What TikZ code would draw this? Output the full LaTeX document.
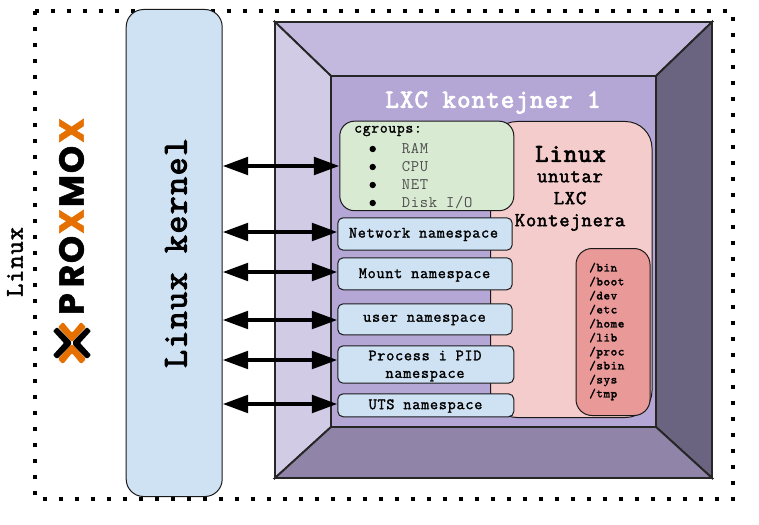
\documentclass[tikz,border=0pt]{standalone}
\usepackage{fontspec}
\setmonofont{Latin Modern Mono}[Scale=1.08,LetterSpace=4.4,BoldFont={Latin Modern Mono},BoldFeatures={FakeBold=1.6}]
\newfontfamily\bigmono{Latin Modern Mono}[Scale=1.08,LetterSpace=4.4,FakeBold=3.2]
\newfontfamily\midmono{Latin Modern Mono}[Scale=1.08,LetterSpace=4.4,FakeBold=2.4]
\newfontfamily\logofont{Poppins}[BoldFeatures={FakeBold=1.5}]
\usetikzlibrary{arrows.meta}
\definecolor{kblue}{HTML}{CFE2F3}
\definecolor{kgreen}{HTML}{D9EAD3}
\definecolor{kpink}{HTML}{F4CCCC}
\definecolor{kred}{HTML}{EA9999}
\definecolor{kin}{HTML}{B4A7D6}
\definecolor{ktop}{HTML}{C3B8DE}
\definecolor{kleft}{HTML}{D2CBE6}
\definecolor{kright}{HTML}{6A6480}
\definecolor{kbot}{HTML}{9085A9}
\definecolor{korange}{HTML}{E57000}
\tikzset{
  x=0.75pt,y=-0.75pt,
  edge/.style={draw=black!90,line width=0.75pt},
  bev/.style={draw=black!85,line width=1.4pt,line join=miter},
  nsbox/.style={draw=black!90,line width=0.75pt,fill=kblue,rounded corners=4pt,inner sep=0pt,anchor=north west},
  nstext/.style={font=\ttfamily\bfseries\fontsize{11}{13.2}\selectfont,align=center,inner sep=0pt},
  biarrow/.style={{Triangle[length=19pt,width=13pt]}-{Triangle[length=19pt,width=13pt]},line width=3pt,black},
  logo/.style={font=\logofont\bfseries\fontsize{26}{26}\selectfont,rotate=90,inner sep=0pt}
}
\begin{document}
\begin{tikzpicture}
\useasboundingbox (0,0) rectangle (759,524);
\fill[white] (0,0) rectangle (759,524);
\draw[line width=3pt,dash pattern=on 3pt off 9pt] (35,11) -- (733,11) -- (733,499) -- (35,499) -- cycle;
\node[rotate=90,font=\midmono\fontsize{17.6}{20}\selectfont,inner sep=0pt] (lnx) at (15,262) {Linux};
% logo
\node[logo,korange] (x1) at (71.5,130.5) {X};
\node[logo] (o1) at (71.5,159.5) {O};
\node[logo] (m1) at (71.5,191) {M};
\node[logo,korange] (x2) at (71.5,221.5) {X};
\node[logo] (o2) at (71.5,249.5) {O};
\node[logo] (r1) at (71.5,276) {R};
\node[logo] (p1) at (71.5,304) {P};
\fill[black,rounded corners=0.8pt] (53,331) -- (57,327) -- (71,341) -- (71,345) -- (57,359) -- (53,355) -- (64,343) -- cycle;
\fill[black,rounded corners=0.8pt] (91,331) -- (87,327) -- (73,341) -- (73,345) -- (87,359) -- (91,355) -- (80,343) -- cycle;
\fill[korange,rounded corners=1pt] (58,327) -- (63,322) -- (72,333) -- (81,322) -- (86,327) -- (72,342) -- cycle;
\fill[korange,rounded corners=1pt] (58,359) -- (63,364) -- (72,353) -- (81,364) -- (86,359) -- (72,344) -- cycle;
% kernel
\node[draw=black!90,line width=0.75pt,fill=kblue,rounded corners=13pt,minimum width=96*0.75pt,minimum height=487*0.75pt,inner sep=0pt,anchor=north west] (kernel) at (125.7,9) {};
\node[rotate=90,font=\bigmono\fontsize{24.1}{26}\selectfont,inner sep=0pt] (kt) at (176,253) {Linux kernel};
% frame
\path[bev,fill=ktop] (275,22) -- (712,22) -- (656,76) -- (331,76) -- cycle;
\path[bev,fill=kleft] (275,22) -- (331,76) -- (331,427) -- (275,478) -- cycle;
\path[bev,fill=kright] (712,22) -- (712,478) -- (656,427) -- (656,76) -- cycle;
\path[bev,fill=kbot] (275,478) -- (331,427) -- (656,427) -- (712,478) -- cycle;
\path[bev,fill=kin] (331,76) rectangle (656,427);
\node[font=\bigmono\fontsize{18.1}{20}\selectfont,text=white,inner sep=0pt] (title) at (493,102.5) {LXC kontejner 1};
% linux
\node[edge,fill=kpink,rounded corners=20pt,minimum width=161.5*0.75pt,minimum height=296*0.75pt,inner sep=0pt,anchor=north west] (lin) at (490,121) {};
\node[font=\bigmono\fontsize{17.8}{20}\selectfont,inner sep=0pt] (lt1) at (570.5,154) {Linux};
\node[font=\midmono\fontsize{13.8}{16.5}\selectfont,inner sep=0pt,align=center] (lt2) at (570,201) {unutar\\LXC\\Kontejnera};
% cgroups
\node[draw=black!90,line width=0.75pt,fill=kgreen,rounded corners=11pt,minimum width=174*0.75pt,minimum height=89.5*0.75pt,inner sep=0pt,anchor=north west] (cg) at (339.3,120.7) {};
\node[font=\ttfamily\bfseries\fontsize{10.6}{12}\selectfont,inner sep=0pt,anchor=west] (cgt) at (354,131) {cgroups:};
\foreach \yy/\itemtext in {149/{RAM},167/{CPU},185/{NET},203/{Disk I{/}O}}{
  \fill (372.7,\yy) circle (3.2);
  \node[font=\ttfamily\fontsize{11.2}{12}\selectfont,text=black!70,inner sep=0pt,anchor=west] at (401.5,\yy) {\itemtext};
}
% namespaces
\node[nsbox,minimum width=174.4*0.75pt,minimum height=32.4*0.75pt] (ns1) at (337.3,217.3) {};
\node[nstext] (ns1t) at (423.5,234.5) {Network namespace};
\node[nsbox,minimum width=174.4*0.75pt,minimum height=32*0.75pt] (ns2) at (337.3,257.3) {};
\node[nstext] (ns2t) at (424.5,275) {Mount namespace};
\node[nsbox,minimum width=174.4*0.75pt,minimum height=31*0.75pt] (ns3) at (337.3,303.3) {};
\node[nstext] (ns3t) at (424.5,320) {user namespace};
\node[nsbox,minimum width=176*0.75pt,minimum height=37.4*0.75pt] (ns4) at (337.3,345.3) {};
\node[nstext] (ns4t) at (425,366) {Process i PID\\namespace};
\node[nsbox,minimum width=176*0.75pt,minimum height=23*0.75pt] (ns5) at (337.3,393.3) {};
\node[nstext] (ns5t) at (425.5,406) {UTS namespace};
% fs
\node[draw=black!90,line width=0.75pt,fill=kred,rounded corners=12pt,minimum width=74*0.75pt,minimum height=167*0.75pt,inner sep=0pt,anchor=north west] (fs) at (575.5,248) {};
\node[font=\ttfamily\bfseries\fontsize{8.7}{10.5}\selectfont,inner sep=0pt,align=left,anchor=north west] (fst) at (589,262.5) {/bin\\/boot\\/dev\\/etc\\/home\\/lib\\/proc\\/sbin\\/sys\\/tmp};
% arrows
\coordinate (k1) at (kernel.east |- 0,166);
\coordinate (k2) at (kernel.east |- 0,232);
\coordinate (k3) at (kernel.east |- 0,272);
\coordinate (k4) at (kernel.east |- 0,320);
\coordinate (k5) at (kernel.east |- 0,360);
\coordinate (k6) at (kernel.east |- 0,404);
\draw[biarrow] (k1) -- (cg.west |- k1);
\draw[biarrow] (k2) -- (ns1.west |- k2);
\draw[biarrow] (k3) -- (ns2.west |- k3);
\draw[biarrow] (k4) -- (ns3.west |- k4);
\draw[biarrow] (k5) -- (ns4.west |- k5);
\draw[biarrow] (k6) -- (ns5.west |- k6);
\end{tikzpicture}
\end{document}
